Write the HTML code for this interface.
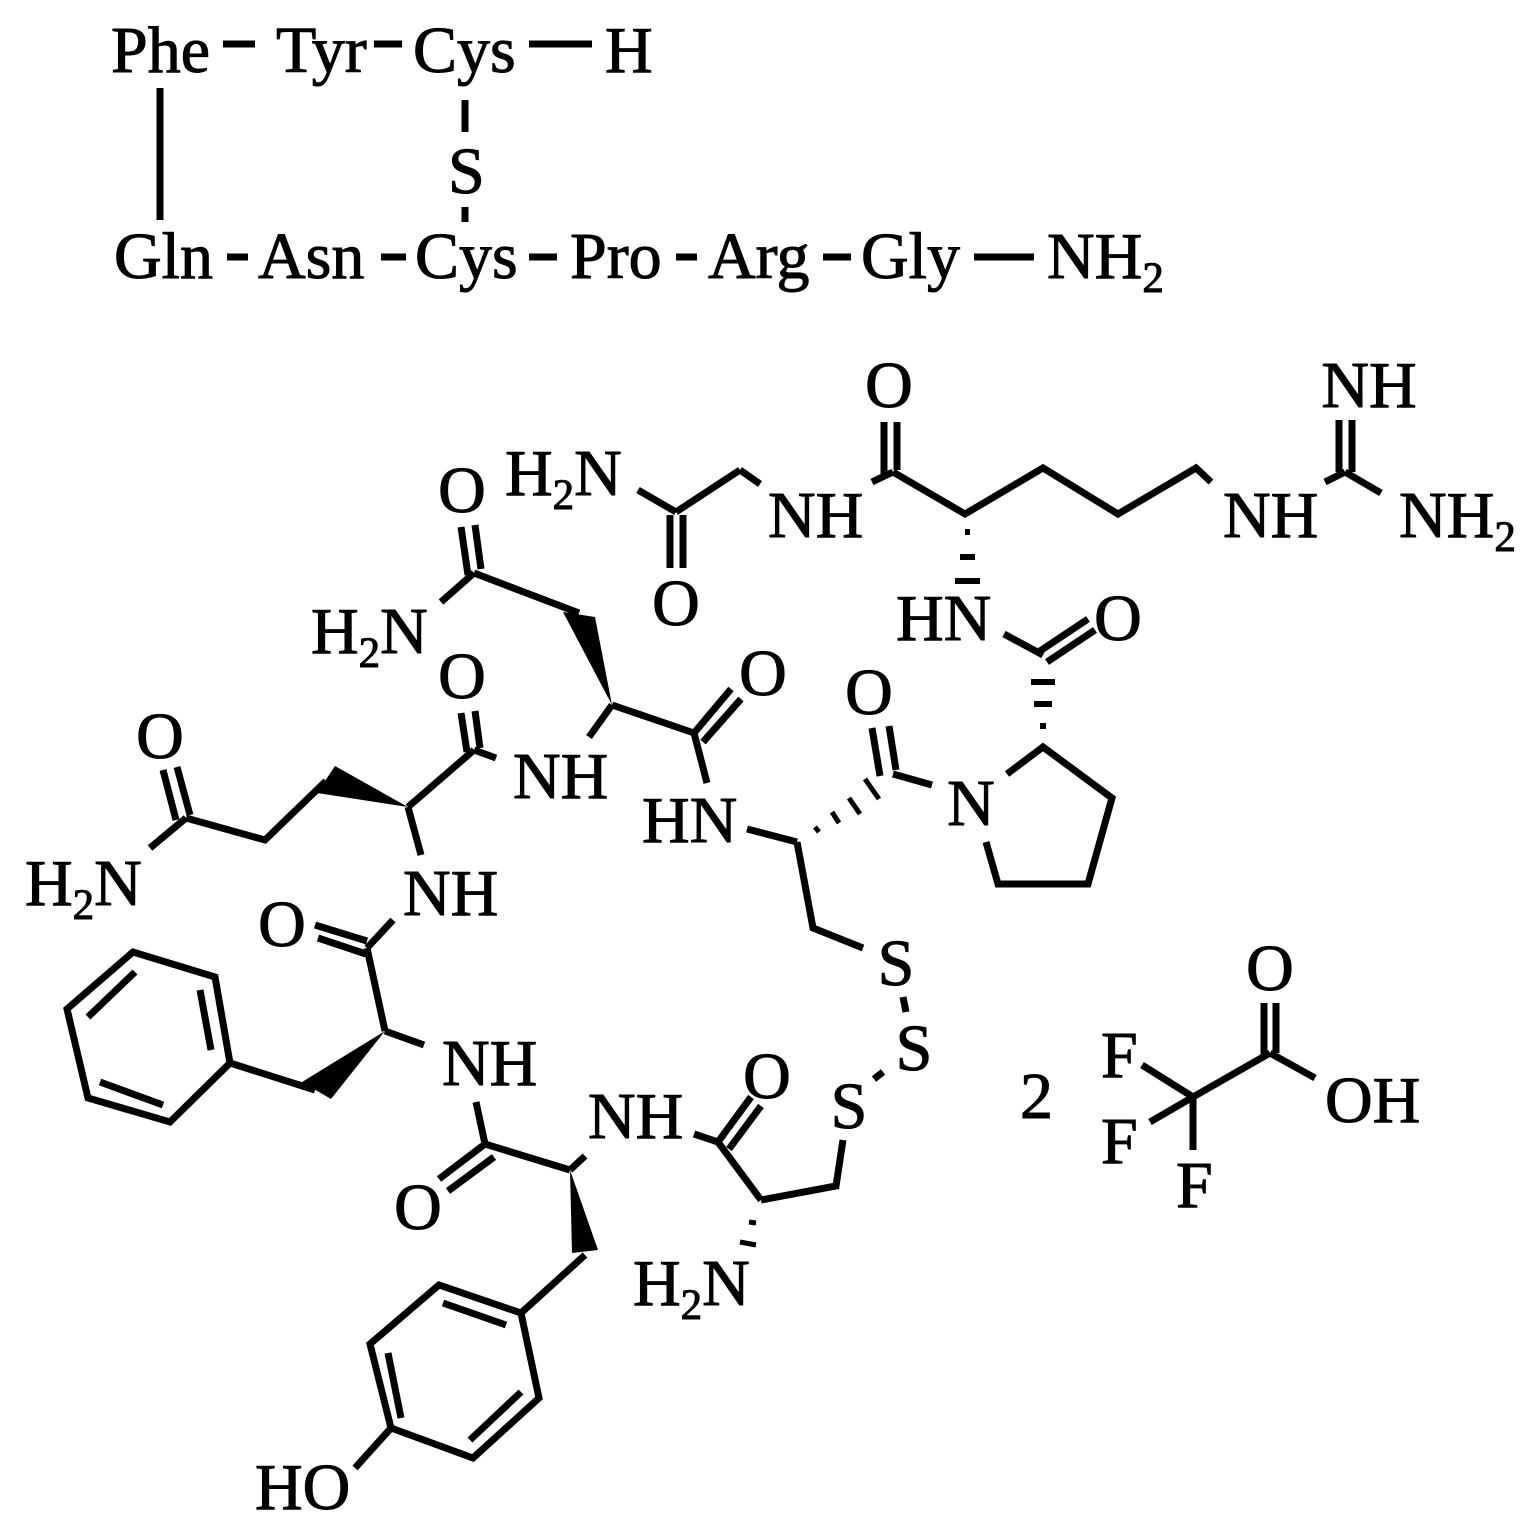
<!DOCTYPE html>
<html><head><meta charset="utf-8"><style>
html,body{margin:0;padding:0;background:#fff;}
svg{display:block;}
text{font-family:"Liberation Serif","DejaVu Serif",serif;font-size:66px;fill:#000;stroke:#000;stroke-width:1px;}
.s{font-size:43px;}
</style></head><body>
<svg width="1538" height="1538" viewBox="0 0 1538 1538" xmlns="http://www.w3.org/2000/svg">
<g stroke="#000" stroke-width="7" fill="none" stroke-linecap="butt">
<line x1="223" y1="44" x2="255" y2="44"/>
<line x1="374" y1="44" x2="402" y2="44"/>
<line x1="529" y1="44" x2="592" y2="44"/>
<line x1="160" y1="88" x2="160" y2="220"/>
<line x1="465" y1="100" x2="465" y2="132"/>
<line x1="465" y1="207" x2="465" y2="222"/>
<line x1="227" y1="257" x2="248" y2="257"/>
<line x1="381" y1="257" x2="406" y2="257"/>
<line x1="529" y1="257" x2="557" y2="257"/>
<line x1="676" y1="257" x2="697" y2="257"/>
<line x1="823" y1="257" x2="851" y2="257"/>
<line x1="974" y1="257" x2="1034" y2="257"/>

<line x1="638" y1="490" x2="676" y2="512"/>
<line x1="676" y1="512" x2="740" y2="470"/>
<line x1="740" y1="470" x2="760" y2="484"/>
<line x1="670" y1="515" x2="670" y2="568"/>
<line x1="683" y1="515" x2="683" y2="568"/>
<line x1="872" y1="482" x2="893" y2="472"/>
<line x1="884" y1="422" x2="884" y2="474"/>
<line x1="897" y1="422" x2="897" y2="470"/>
<polyline points="893,472 965,514 1043,468 1118,514 1196,468 1211,482"/>
<line x1="1325" y1="482" x2="1345" y2="472"/>
<line x1="1345" y1="472" x2="1381" y2="493"/>
<line x1="1339" y1="420" x2="1339" y2="472"/>
<line x1="1352" y1="420" x2="1352" y2="472"/>
<g stroke-width="6">
<line x1="965" y1="532" x2="970" y2="532"/>
<line x1="960" y1="557" x2="975" y2="557"/>
<line x1="955" y1="581" x2="980" y2="581"/>
</g>
<line x1="1004" y1="634" x2="1043" y2="655"/>
<line x1="1040" y1="651" x2="1088" y2="619"/>
<line x1="1047" y1="662" x2="1095" y2="630"/>
<g stroke-width="6">
<line x1="1031" y1="682" x2="1055" y2="682"/>
<line x1="1034" y1="704" x2="1052" y2="704"/>
<line x1="1040" y1="726" x2="1046" y2="726"/>
</g>
<polyline points="1007,774 1043,747 1112,798 1088,884 998,884 986,842"/>
<line x1="932" y1="785" x2="893" y2="774"/>
<line x1="872" y1="728" x2="880" y2="776"/>
<line x1="889" y1="726" x2="896" y2="770"/>
<g stroke-width="5">
<line x1="865" y1="779" x2="879" y2="799"/>
<line x1="849" y1="798" x2="860" y2="814"/>
<line x1="832" y1="812" x2="839" y2="823"/>
<line x1="815" y1="827" x2="819" y2="832"/>
</g>
<line x1="747" y1="829" x2="797" y2="842"/>
<polyline points="797,842 813,928 863,948"/>
<line x1="694" y1="733" x2="707" y2="783"/>
<line x1="612" y1="705" x2="694" y2="733"/>
<line x1="694" y1="733" x2="731" y2="689"/>
<line x1="703" y1="742" x2="741" y2="699"/>
<line x1="612" y1="705" x2="589" y2="737"/>
<line x1="579" y1="613" x2="474" y2="573"/>
<line x1="461" y1="527" x2="468" y2="575"/>
<line x1="475" y1="525" x2="481" y2="569"/>
<line x1="474" y1="573" x2="441" y2="602"/>
<line x1="474" y1="750" x2="496" y2="758"/>
<line x1="461" y1="713" x2="467" y2="752"/>
<line x1="475" y1="711" x2="480" y2="748"/>
<line x1="474" y1="750" x2="408" y2="807"/>
<line x1="408" y1="807" x2="421" y2="855"/>
<polyline points="326,781 265,840 186,818"/>
<line x1="163" y1="770" x2="176" y2="820"/>
<line x1="177" y1="767" x2="190" y2="815"/>
<line x1="186" y1="818" x2="150" y2="848"/>
<line x1="393" y1="920" x2="367" y2="948"/>
<line x1="315" y1="925" x2="367" y2="941"/>
<line x1="318" y1="938" x2="366" y2="954"/>
<line x1="367" y1="948" x2="385" y2="1031"/>
<line x1="385" y1="1031" x2="424" y2="1045"/>
<line x1="315" y1="1090" x2="230" y2="1063"/>
<polygon points="230,1063 215,977 133,952 67,1009 88,1098 170,1122"/>
<line x1="200" y1="990" x2="211" y2="1050"/>
<line x1="135" y1="972" x2="88" y2="1017"/>
<line x1="100" y1="1082" x2="163" y2="1105"/>
<line x1="476" y1="1102" x2="485" y2="1144"/>
<line x1="485" y1="1144" x2="439" y2="1179"/>
<line x1="494" y1="1157" x2="448" y2="1191"/>
<line x1="485" y1="1144" x2="570" y2="1170"/>
<line x1="570" y1="1170" x2="585" y2="1156"/>
<line x1="585" y1="1255" x2="521" y2="1313"/>
<polygon points="521,1313 439,1285 370,1344 391,1428 473,1458 539,1398"/>
<line x1="443" y1="1303" x2="506" y2="1325"/>
<line x1="388" y1="1353" x2="401" y2="1418"/>
<line x1="470" y1="1440" x2="521" y2="1392"/>
<line x1="391" y1="1428" x2="355" y2="1468"/>
<line x1="694" y1="1134" x2="718" y2="1142"/>
<line x1="718" y1="1142" x2="751" y2="1097"/>
<line x1="729" y1="1149" x2="761" y2="1106"/>
<line x1="718" y1="1142" x2="761" y2="1200"/>
<polyline points="761,1200 836,1186 843,1140"/>
<g stroke-width="5">
<line x1="749" y1="1222" x2="756" y2="1223"/>
<line x1="740" y1="1242" x2="756" y2="1245"/>
</g>
<line x1="903" y1="997" x2="906" y2="1012"/>
<line x1="874" y1="1079" x2="883" y2="1072"/>
<line x1="1142" y1="1065" x2="1193" y2="1097"/>
<line x1="1150" y1="1122" x2="1193" y2="1097"/>
<line x1="1193" y1="1097" x2="1193" y2="1150"/>
<line x1="1193" y1="1097" x2="1270" y2="1053"/>
<line x1="1264" y1="1003" x2="1264" y2="1056"/>
<line x1="1276" y1="1003" x2="1276" y2="1053"/>
<line x1="1270" y1="1053" x2="1315" y2="1078"/>
</g>
<g fill="#000" stroke="none">
<polygon points="612,705 563,612 595,617"/>
<polygon points="408,807 335,766 317,793"/>
<polygon points="385,1031 302,1082 331,1099"/>
<polygon points="570,1170 572,1253 598,1250"/>
</g>
<text x="111" y="72">Phe</text>
<text x="276" y="72">Tyr</text>
<text x="413" y="72">Cys</text>
<text x="605" y="72">H</text>
<text x="448" y="193">S</text>
<text x="114" y="278">Gln</text>
<text x="258" y="278">Asn</text>
<text x="415" y="278">Cys</text>
<text x="570" y="278">Pro</text>
<text x="708" y="278">Arg</text>
<text x="861" y="278">Gly</text>
<text x="1047" y="278">NH<tspan class="s" dy="14">2</tspan></text>
<text x="505" y="495">H<tspan class="s" dy="14">2</tspan><tspan dy="-14">N</tspan></text>
<text x="676" y="625" text-anchor="middle">O</text>
<text x="768" y="537">NH</text>
<text x="889" y="407" text-anchor="middle">O</text>
<text x="1223" y="537">NH</text>
<text x="1369" y="407" text-anchor="middle">NH</text>
<text x="1399" y="537">NH<tspan class="s" dy="14">2</tspan></text>
<text x="896" y="640">HN</text>
<text x="1118" y="640" text-anchor="middle">O</text>
<text x="971" y="825" text-anchor="middle">N</text>
<text x="869" y="714" text-anchor="middle">O</text>
<text x="642" y="842">HN</text>
<text x="763" y="695" text-anchor="middle">O</text>
<text x="513" y="798">NH</text>
<text x="462" y="512" text-anchor="middle">O</text>
<text x="311" y="653">H<tspan class="s" dy="14">2</tspan><tspan dy="-14">N</tspan></text>
<text x="462" y="698" text-anchor="middle">O</text>
<text x="403" y="915">NH</text>
<text x="160" y="758" text-anchor="middle">O</text>
<text x="25" y="905">H<tspan class="s" dy="14">2</tspan><tspan dy="-14">N</tspan></text>
<text x="282" y="946" text-anchor="middle">O</text>
<text x="442" y="1085">NH</text>
<text x="418" y="1229" text-anchor="middle">O</text>
<text x="588" y="1138">NH</text>
<text x="255" y="1509">HO</text>
<text x="767" y="1098" text-anchor="middle">O</text>
<text x="633" y="1305">H<tspan class="s" dy="14">2</tspan><tspan dy="-14">N</tspan></text>
<text x="896" y="985" text-anchor="middle">S</text>
<text x="914" y="1070" text-anchor="middle">S</text>
<text x="849" y="1128" text-anchor="middle">S</text>
<text x="1020" y="1118">2</text>
<text x="1101" y="1077">F</text>
<text x="1101" y="1163">F</text>
<text x="1176" y="1207">F</text>
<text x="1270" y="990" text-anchor="middle">O</text>
<text x="1325" y="1122">OH</text>
</svg>
</body></html>
